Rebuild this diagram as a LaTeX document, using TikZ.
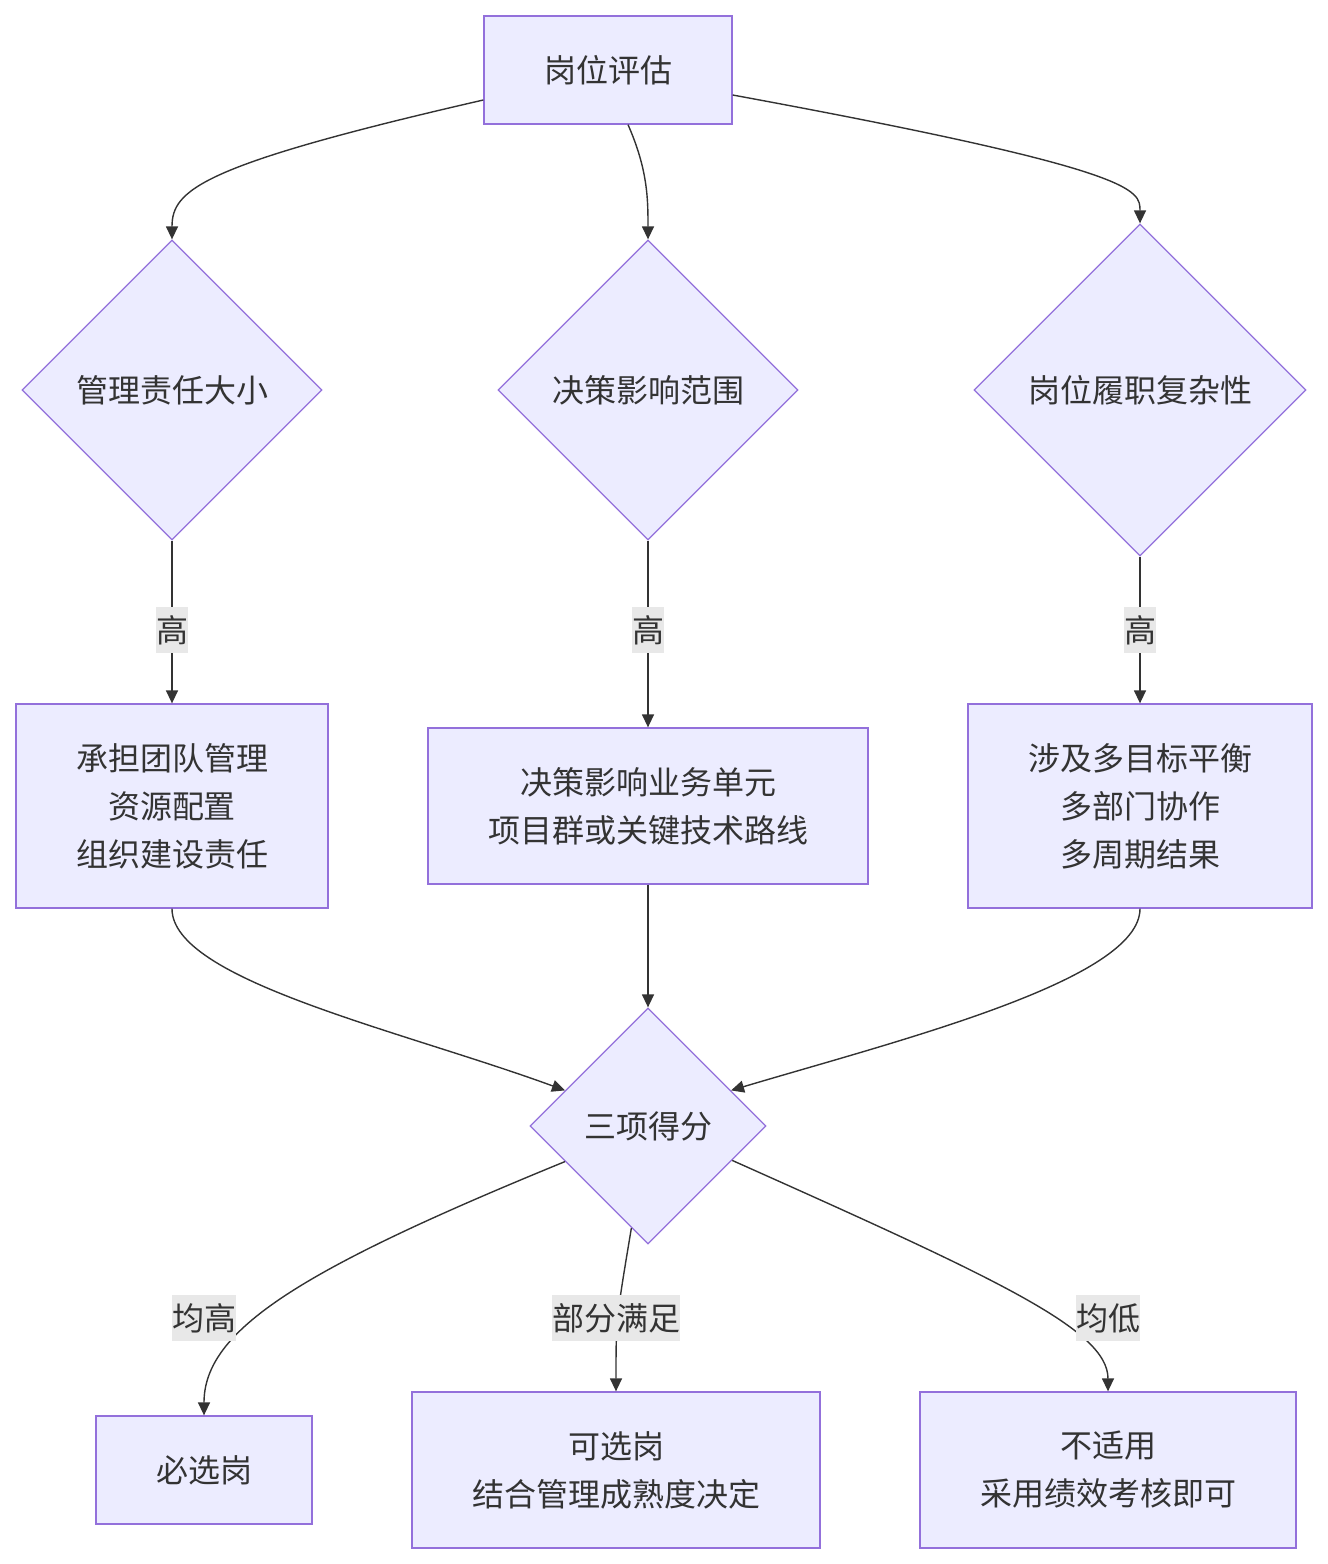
\documentclass[tikz,border=0pt]{standalone}
\usepackage{fontspec}
\setmainfont{Noto Sans CJK SC}
\usetikzlibrary{shapes.geometric,arrows.meta,calc}
\definecolor{nfill}{HTML}{ECECFF}
\definecolor{nline}{HTML}{9370DB}
\definecolor{ink}{HTML}{333333}
\definecolor{lab}{HTML}{E8E8E8}
\begin{document}
\begin{tikzpicture}[x=1pt,y=-1pt,
  every node/.style={font=\fontsize{32}{48}\selectfont, text=ink},
  box/.style={draw=nline, fill=nfill, line width=1.3pt, align=center, inner sep=0pt},
  dia/.style={draw=nline, fill=nfill, line width=1.3pt, diamond, inner sep=0pt, align=center},
  edge/.style={draw=ink, line width=1.4pt, -{Triangle[length=13pt,width=12pt]}},
  elab/.style={fill=lab, inner xsep=0pt, inner ysep=0pt, minimum height=46pt}]
\useasboundingbox (0,0) rectangle (1328,1564);
\node[box, minimum width=248, minimum height=108] (top) at (608,70) {岗位评估};
\node[dia, minimum width=300, minimum height=300] (dA) at (172,390) {管理责任大小};
\node[dia, minimum width=300, minimum height=300] (dB) at (648,390) {决策影响范围};
\node[dia, minimum width=332, minimum height=332] (dC) at (1140,390) {岗位履职复杂性};
\node[box, minimum width=312, minimum height=204] (rA) at (172,806) {承担团队管理\\资源配置\\组织建设责任};
\node[box, minimum width=440, minimum height=156] (rB) at (648,806) {决策影响业务单元\\项目群或关键技术路线};
\node[box, minimum width=344, minimum height=204] (rC) at (1140,806) {涉及多目标平衡\\多部门协作\\多周期结果};
\node[dia, minimum width=236, minimum height=236] (dD) at (648,1126) {三项得分};
\node[box, minimum width=216, minimum height=108] (e1) at (204,1470) {必选岗};
\node[box, minimum width=408, minimum height=156] (e2) at (616,1470) {可选岗\\结合管理成熟度决定};
\node[box, minimum width=376, minimum height=156] (e3) at (1108,1470) {不适用\\采用绩效考核即可};

\draw[edge] ([yshift=-30pt]top.west) .. controls (200,165) and (172,190) .. (dA.north);
\draw[edge] ([xshift=20pt]top.south) .. controls (648,170) and (648,200) .. (dB.north);
\draw[edge] ([yshift=-25pt]top.east) .. controls (1140,170) and (1140,190) .. (dC.north);

\draw[edge] (dA.south) -- (rA.north);
\draw[edge] (dB.south) -- (rB.north);
\draw[edge] (dC.south) -- (rC.north);
\node[elab] (lA) at (172,630) {高};
\node[elab] (lB) at (648,630) {高};
\node[elab] (lC) at (1140,630) {高};

\draw[edge] (rA.south) .. controls (172,980) and (400,1030) .. ($(dD.north)!0.7!(dD.west)$);
\draw[edge] (rB.south) -- (dD.north);
\draw[edge] (rC.south) .. controls (1140,980) and (900,1040) .. ($(dD.north)!0.7!(dD.east)$);

\coordinate (s1) at ($(dD.south)!0.7!(dD.west)$);
\coordinate (s2) at ($(dD.south)!0.14!(dD.west)$);
\coordinate (s3) at ($(dD.south)!0.71!(dD.east)$);
\draw[edge] (s1) .. controls (300,1270) and (204,1330) .. (e1.north);
\draw[edge] (s2) .. controls (616,1320) .. (e2.north);
\draw[edge] (s3) .. controls (1000,1280) and (1108,1330) .. (e3.north);
\node[elab] (l1) at (204,1318) {均高};
\node[elab] (l2) at (616,1318) {部分满足};
\node[elab] (l3) at (1108,1318) {均低};
\end{tikzpicture}
\end{document}
